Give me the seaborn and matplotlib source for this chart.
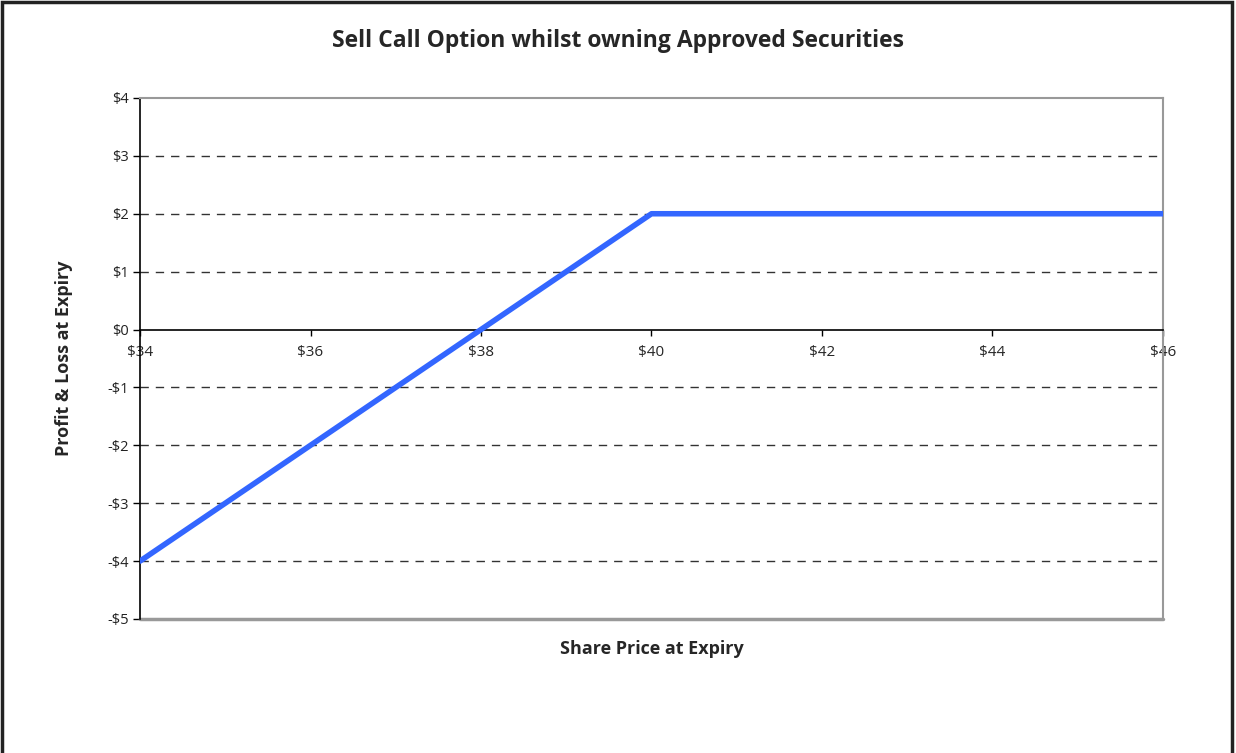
import seaborn as sns
import pandas as pd
from matplotlib import pyplot as plt
from matplotlib.patches import Rectangle

# payoff
share_price = [34, 36, 38, 40, 42, 44, 46]
profit_loss = [-4, -2, 0, 2, 2, 2, 2]

x_ticks = [34, 36, 38, 40, 42, 44, 46]
y_ticks = [-5, -4, -3, -2, -1, 0, 1, 2, 3, 4]


def money(v):
    return f"-${abs(v)}" if v < 0 else f"${v}"


df = pd.DataFrame({"price": share_price, "pl": profit_loss})

sns.set_theme(style="white")
plt.rcParams['font.family'] = ['Open Sans', 'DejaVu Sans']

fig = plt.figure(figsize=(12.36, 7.53), dpi=100)
ax = fig.add_axes([0.1133, 0.178, 0.8276, 0.6919])

# dashed grid at each dollar
for v in y_ticks:
    if v in (-5, 0, 4):
        continue
    ax.axhline(v, color="#333333", lw=1, ls=(0, (6, 5)), zorder=1)

sns.lineplot(data=df, x="price", y="pl", ax=ax, color="#3366ff",
             linewidth=4, zorder=3)

ax.set_xlim(34, 46)
ax.set_ylim(-5, 4)
ax.set_xticks(x_ticks)
ax.set_yticks(y_ticks)
ax.set_xticklabels([money(v) for v in x_ticks], fontsize=10.5, color="#222222")
ax.set_yticklabels([money(v) for v in y_ticks], fontsize=10.5, color="#222222")

ax.spines['bottom'].set_position(('data', 0))
ax.spines['bottom'].set_color("black")
ax.spines['bottom'].set_linewidth(1.2)
ax.spines['left'].set_color("black")
ax.spines['left'].set_linewidth(1.2)
for s in ('top', 'right'):
    ax.spines[s].set_color("#999999")
    ax.spines[s].set_linewidth(1.5)
ax.axhline(-5, color="#999999", lw=2.5, zorder=2, clip_on=False)

ax.tick_params(axis='x', bottom=True, direction='out', length=4, width=1,
               color="black", pad=7)
ax.tick_params(axis='y', left=True, direction='out', length=5, width=1,
               color="black", pad=3)

# title is centred on the whole chart, not on the plot area
ax.set_title("Sell Call Option whilst owning Approved Securities",
             fontsize=16.5, fontweight="bold", pad=37, x=0.467)
ax.set_xlabel("Share Price at Expiry", fontsize=13, fontweight="bold")
ax.set_ylabel("Profit & Loss at Expiry", fontsize=13, fontweight="bold")
ax.xaxis.set_label_coords(0.5, -0.058)
ax.xaxis.label.set_va("center")
ax.yaxis.set_label_coords(-0.074, 0.5)
ax.yaxis.label.set_va("center")

# chart frame (bottom edge falls outside the picture)
fig.patches.append(Rectangle((0.002, -0.05), 0.995, 1.047, transform=fig.transFigure,
                             fill=False, edgecolor="#222222", lw=2.5))

fig.savefig("out.png", dpi=100)
